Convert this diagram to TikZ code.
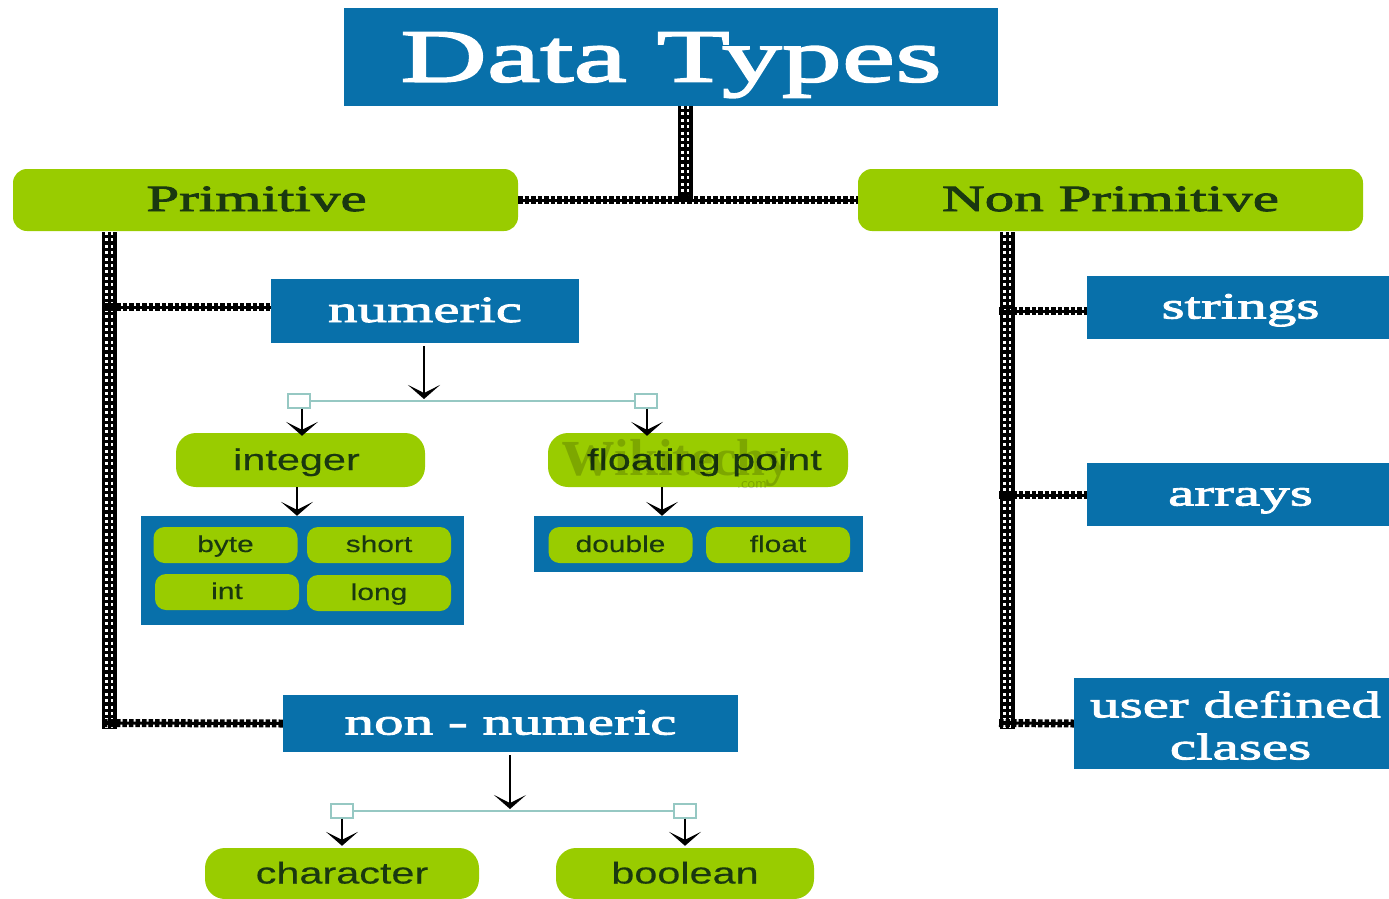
\documentclass[tikz,border=0pt]{standalone}
\usepackage{fontspec}
\setmainfont{Liberation Serif}
\newfontfamily\headfont[FakeStretch=1.6,FakeBold=2.5]{Liberation Serif}
\newfontfamily\bodyfont[FakeStretch=1.38,FakeBold=0.4]{Liberation Sans}
\newfontfamily\smallfont[FakeStretch=1.3,FakeBold=0.3]{Liberation Sans}
\newfontfamily\markfont{Liberation Serif Bold}
\usetikzlibrary{arrows.meta}

\definecolor{dtblue}{RGB}{8,112,170}
\definecolor{dtgreen}{RGB}{153,204,0}
\definecolor{dtdark}{RGB}{26,56,16}
\definecolor{dtteal}{RGB}{150,200,195}

\tikzset{
    bluebox/.style={fill=dtblue, text=white, inner sep=0pt},
    greenbox/.style={fill=dtgreen, text=dtdark, rounded corners=14pt, inner sep=0pt},
    headtext/.style={font=\headfont\fontsize{37}{44}\selectfont, text height=22pt, text depth=0pt},
    bodybox/.style={greenbox, rounded corners=20pt, font=\bodyfont\fontsize{30}{30}\selectfont, text height=20pt, text depth=0pt},
    smallbox/.style={greenbox, rounded corners=11pt, minimum width=144pt, minimum height=36pt, font=\smallfont\fontsize{23}{23}\selectfont, text height=14pt, text depth=0pt},
    hrail/.style={draw=black, line width=8pt, dash pattern=on 4.5pt off 2pt, postaction={draw=black, solid, line width=3pt}},
    vrail/.style={draw=black, line width=15pt, postaction={draw=white, line width=8pt, dash pattern=on 3pt off 3.4pt}, postaction={draw=black, line width=3pt, dash pattern=on 3.4pt off 3pt}},
    tiparrow/.style={-{Stealth[length=14pt,width=32pt,inset=8pt]}, line width=2.5pt, black},
    tinybox/.style={draw=dtteal, fill=white, line width=2pt, inner sep=0pt, minimum width=22pt, minimum height=14pt},
}

\begin{document}
\begin{tikzpicture}[x=1pt,y=-1pt]
    \useasboundingbox (0,0) rectangle (1389,899);

    % top row
    \node[bluebox, minimum width=654pt, minimum height=98pt, font=\headfont\fontsize{75}{75}\selectfont, text depth=0pt] (title) at (671,57) {Data Types};
    \node[greenbox, headtext, minimum width=505pt, minimum height=62pt] (primitive) at (265.5,200) {Primitive\hspace*{18pt}};
    \node[greenbox, headtext, minimum width=505pt, minimum height=62pt] (nonprimitive) at (1110.5,200) {Non Primitive};

    % left side
    \node[bluebox, headtext, minimum width=308pt, minimum height=64pt] (numeric) at (425,311) {numeric};
    \node[bluebox, headtext, minimum width=455pt, minimum height=57pt] (nonnumeric) at (510.5,723.5) {non - numeric};

    \node[bodybox, minimum width=249pt, minimum height=54pt] (integer) at (300.5,460) {integer\hspace*{8pt}};
    \node[bodybox, minimum width=300pt, minimum height=54pt] (floating) at (698,460) {\hspace*{13pt}floating point};

    \node[bluebox, minimum width=323pt, minimum height=109pt] (intpanel) at (302.5,570.5) {};
    \node[smallbox] (byte) at (225.5,545) {byte};
    \node[smallbox] (short) at (379,545) {short};
    \node[smallbox] (int) at (227,592) {int};
    \node[smallbox] (long) at (379,593) {long};

    \node[bluebox, minimum width=329pt, minimum height=56pt] (floatpanel) at (698.5,544) {};
    \node[smallbox] (double) at (620.5,545) {double};
    \node[smallbox] (float) at (778,545) {float};

    \node[bodybox, minimum width=274pt, minimum height=51pt] (character) at (342,873.5) {character};
    \node[bodybox, minimum width=258pt, minimum height=51pt] (boolean) at (685,873.5) {boolean};

    % right side
    \node[bluebox, headtext, minimum width=302pt, minimum height=63pt] (strings) at (1238,307.5) {\hspace*{5pt}strings};
    \node[bluebox, headtext, minimum width=302pt, minimum height=63pt] (arrays) at (1238,494.5) {\hspace*{5pt}arrays};
    \node[bluebox, minimum width=315pt, minimum height=91pt, align=center, font=\headfont\fontsize{37}{42}\selectfont] (userdefined) at (1231.5,723.5) {\rule{0pt}{30pt}\hspace*{8pt}user defined\\\hspace*{18pt}clases};

    % small squares
    \node[tinybox] (numleft) at (298.5,400.5) {};
    \node[tinybox] (numright) at (645.5,400.5) {};
    \node[tinybox] (nonleft) at (342,810.5) {};
    \node[tinybox] (nonright) at (685,810.5) {};

    % thick connectors
    \coordinate (hub) at (685,200);
    \coordinate (titlefoot) at (685,106);
    \coordinate (primfoot) at (109,232);
    \coordinate (primend) at (109,729);
    \coordinate (primnum) at (103,307);
    \coordinate (primnon) at (103,723);
    \coordinate (nonfoot) at (1007,232);
    \coordinate (nonend) at (1007,729);
    \coordinate (nonstr) at (999,311);
    \coordinate (nonarr) at (999,495);
    \coordinate (nonuser) at (999,723);

    \draw[vrail] (titlefoot) -- (hub);
    \draw[vrail] (primfoot) -- (primend);
    \draw[vrail] (nonfoot) -- (nonend);

    \draw[hrail] (primitive.east) -- (nonprimitive.west);
    \draw[hrail] (primnum) -- (primnum -| numeric.west);
    \draw[hrail] (primnon) -- (nonnumeric.west);
    \draw[hrail] (nonstr) -- (nonstr -| strings.west);
    \draw[hrail] (nonarr) -- (nonarr -| arrays.west);
    \draw[hrail] (nonuser) -- (userdefined.west);

    % thin lines and arrows
    \draw[dtteal, line width=2pt] (numleft) -- (numright);
    \draw[dtteal, line width=2pt] (nonleft) -- (nonright);

    \coordinate (numtip) at (424,399);
    \coordinate (nontip) at (510,809);
    \draw[tiparrow] (numeric.south -| numtip) ++(0,3) -- (numtip);
    \draw[tiparrow] (nonnumeric.south -| nontip) ++(0,3) -- (nontip);

    \draw[tiparrow] (numleft.south -| 302,0) -- ([yshift=-3pt]integer.north -| 302,0);
    \draw[tiparrow] (numright.south -| 647,0) -- ([yshift=-3pt]floating.north -| 647,0);
    \draw[tiparrow] (integer.south -| 297,0) -- (intpanel.north -| 297,0);
    \draw[tiparrow] (floating.south -| 662,0) -- (floatpanel.north -| 662,0);
    \draw[tiparrow, shorten >=2pt] (nonleft.south) -- (character.north);
    \draw[tiparrow, shorten >=2pt] (nonright.south) -- (boolean.north);

    % watermark
    \node[text=black, text opacity=0.18, font=\markfont\fontsize{52}{52}\selectfont] (mark) at (677,463) {{\fontsize{72}{72}\selectfont w}ikitechy};
    \node[text=black, text opacity=0.18, font=\sffamily\fontsize{16}{16}\selectfont] (markcom) at (752,485) {.com};
\end{tikzpicture}
\end{document}
